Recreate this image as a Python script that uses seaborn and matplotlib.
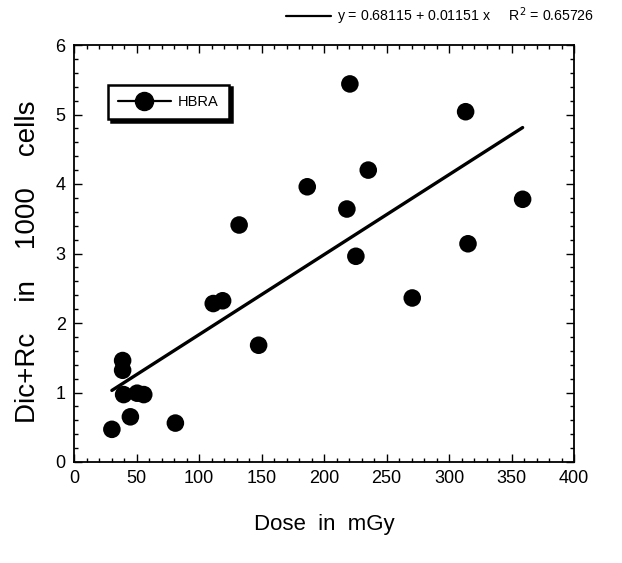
import numpy as np
import pandas as pd
import matplotlib
matplotlib.use("Agg")
import matplotlib.pyplot as plt
from matplotlib.lines import Line2D
from matplotlib.ticker import MultipleLocator
import seaborn as sns

# ── data ─────────────────────────────────────────────────────────────────────
dose = [30.3, 38.9, 38.9, 39.7, 45.1, 50.5, 55.8, 81.1, 111.4, 118.9, 132.1,
        147.7, 186.6, 218.3, 220.7, 225.5, 235.4, 270.6, 313.3, 315.2, 358.9]
aberr = [0.47, 1.46, 1.32, 0.97, 0.65, 0.99, 0.97, 0.56, 2.28, 2.32, 3.41,
         1.68, 3.96, 3.64, 5.44, 2.96, 4.20, 2.36, 5.04, 3.14, 3.78]
intercept = 0.68115
slope = 0.01151
r2 = 0.65726
series_name = "HBRA"

df = pd.DataFrame({"dose": dose, "aberr": aberr})
fit = pd.DataFrame({"dose": [min(dose), max(dose)]})
fit["aberr"] = intercept + slope * fit["dose"]

sns.set_theme(style="ticks")
plt.rcParams["font.family"] = ["Liberation Sans", "DejaVu Sans"]
plt.rcParams.update({"text.color": "black", "axes.labelcolor": "black",
                     "xtick.color": "black", "ytick.color": "black"})

fig = plt.figure(figsize=(6.22, 5.63), dpi=100)
ax = fig.add_axes([74 / 622, 1 - 462 / 563, 500 / 622, 417 / 563])

sns.scatterplot(data=df, x="dose", y="aberr", ax=ax, color="black", s=160,
                edgecolor="none", legend=False, zorder=3)
sns.lineplot(data=fit, x="dose", y="aberr", ax=ax, color="black", lw=2.4,
             legend=False, zorder=2)

ax.set_xlim(0, 400)
ax.set_ylim(0, 6)
ax.xaxis.set_major_locator(MultipleLocator(50))
ax.xaxis.set_minor_locator(MultipleLocator(10))
ax.yaxis.set_major_locator(MultipleLocator(1))
ax.yaxis.set_minor_locator(MultipleLocator(0.2))
ax.tick_params(which="both", direction="in", top=True, right=True,
               color="black", width=1.0)
ax.tick_params(which="major", length=6, labelsize=13, pad=6)
ax.tick_params(which="minor", length=3)
for sp in ax.spines.values():
    sp.set_linewidth(1.3)
    sp.set_color("black")

ax.set_xlabel("Dose  in  mGy", fontsize=16)
ax.xaxis.set_label_coords(0.5, -0.125)
ax.set_ylabel("Dic+Rc    in    1000    cells", fontsize=20)
ax.yaxis.set_label_coords(-0.066, 0.48)

# legend for the data series (boxed, with black drop shadow)
h = Line2D([], [], color="black", lw=1.6, marker="o", markersize=13)
ax.legend([h], [series_name], loc="upper left", bbox_to_anchor=(0.068, 0.905),
          frameon=True, fancybox=False, edgecolor="black", fontsize=10.5,
          handlelength=3.6, handletextpad=0.5, borderpad=0.7, borderaxespad=0,
          shadow={"color": "black", "alpha": 1})
ax.get_legend().get_frame().set_linewidth(1.8)

# regression legend at top right
hl = Line2D([], [], color="black", lw=1.6)
fig.legend([hl], [f"y = {intercept} + {slope} x     R$^2$ = {r2}"],
           loc="center right", bbox_to_anchor=(0.975, 0.971), frameon=False,
           fontsize=10.2, handlelength=3.2, handletextpad=0.4)

fig.savefig("out.png", dpi=100)
